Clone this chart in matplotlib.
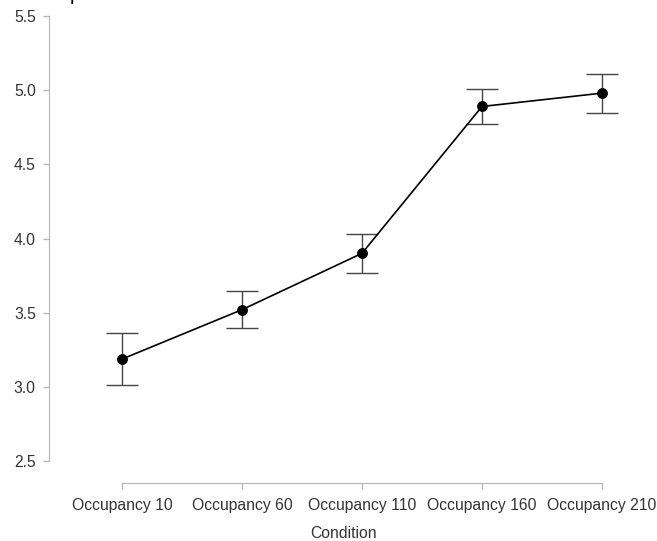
import numpy as np
import matplotlib
matplotlib.use('Agg')
import matplotlib.pyplot as plt

plt.rcParams['font.family'] = ['Liberation Sans', 'DejaVu Sans']

# condition means with lower / upper error limits
conditions = ['Occupancy 10', 'Occupancy 60', 'Occupancy 110', 'Occupancy 160', 'Occupancy 210']
means = [3.187, 3.52, 3.90, 4.89, 4.98]
lower = [3.012, 3.395, 3.77, 4.77, 4.845]
upper = [3.362, 3.645, 4.03, 5.01, 5.11]
yticks = [2.5, 3.0, 3.5, 4.0, 4.5, 5.0, 5.5]

W, H = 657, 541
fig = plt.figure(figsize=(W / 100, H / 100), dpi=100)
# axes placed in pixel terms: left spine at x=49, y range 5.5->16px, 2.5->461px
ax = fig.add_axes([49 / W, (H - 461) / H, (638 - 49) / W, (461 - 16) / H])

x = np.arange(len(conditions))
m = np.array(means)
yerr = [m - np.array(lower), np.array(upper) - m]

ax.errorbar(x, m, yerr=yerr, fmt='none', ecolor='#444444', elinewidth=1.0,
            capsize=11.5, capthick=1.0, zorder=2)
ax.plot(x, m, color='black', lw=1.2, zorder=3)
ax.plot(x, m, 'o', color='black', ms=6.8, zorder=4)

ax.set_xlim(-0.608, 4.3)
ax.set_ylim(2.5, 5.5)
ax.set_xticks(x)
ax.set_xticklabels(conditions)
ax.set_yticks(yticks)
ax.set_yticklabels(['%.1f' % v for v in yticks])

for s in ['top', 'right']:
    ax.spines[s].set_visible(False)
ax.spines['left'].set_color('#b5b5b5')
ax.spines['bottom'].set_color('#b5b5b5')
ax.spines['bottom'].set_position(('outward', 15.8))
ax.spines['bottom'].set_bounds(0, 4)
ax.spines['left'].set_bounds(2.5, 5.5)
ax.tick_params(axis='both', color='#b5b5b5', length=4.5, width=0.9,
               labelsize=11.3, labelcolor='#333333')
ax.tick_params(axis='x', pad=6)
ax.tick_params(axis='y', pad=5)

ax.set_xlabel('Condition', fontsize=11.3, color='#333333', labelpad=10)

# title cropped off at the top of the image, only its descender shows
fig.text(75 / W, 1.0, 'p', fontsize=14, ha='center', va='baseline', color='black')

fig.savefig('out.png', dpi=100)
